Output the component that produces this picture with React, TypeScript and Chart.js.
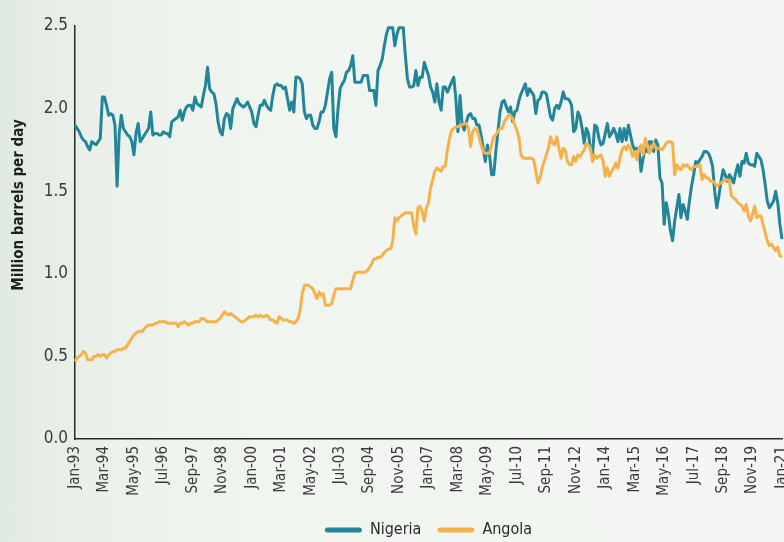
import React, { useEffect, useRef } from "react";
import { Chart, registerables } from "chart.js";
Chart.register(...registerables);

// ---- data (million barrels per day, monthly Jan-93 .. Jan-21) ----
const monthNames = ["Jan", "Feb", "Mar", "Apr", "May", "Jun", "Jul", "Aug", "Sep", "Oct", "Nov", "Dec"];
const categories: string[] = [];
for (let y = 1993; y <= 2021; y++) {
  for (let m = 0; m < 12; m++) {
    if (y === 2021 && m > 0) break;
    categories.push(`${monthNames[m]}-${String(y % 100).padStart(2, "0")}`);
  }
}

const tickLabels = [
  "Jan-93", "Mar-94", "May-95", "Jul-96", "Sep-97", "Nov-98", "Jan-00", "Mar-01", "May-02",
  "Jul-03", "Sep-04", "Nov-05", "Jan-07", "Mar-08", "May-09", "Jul-10", "Sep-11", "Nov-12",
  "Jan-14", "Mar-15", "May-16", "Jul-17", "Sep-18", "Nov-19", "Jan-21",
];

const yTicks = [0, 0.5, 1.0, 1.5, 2.0, 2.5];

const nigeria = [
  1.90, 1.88, 1.86, 1.83, 1.81, 1.80, 1.77, 1.75, 1.80, 1.79, 1.78, 1.80, // 1993
  1.82, 2.07, 2.07, 2.02, 1.96, 1.97, 1.96, 1.90, 1.53, 1.85, 1.96, 1.88, // 1994
  1.86, 1.84, 1.83, 1.80, 1.72, 1.85, 1.91, 1.80, 1.82, 1.84, 1.86, 1.88, // 1995
  1.98, 1.84, 1.85, 1.85, 1.84, 1.84, 1.86, 1.85, 1.85, 1.83, 1.92, 1.93, // 1996
  1.94, 1.95, 1.99, 1.93, 1.98, 2.01, 2.02, 2.02, 1.99, 2.07, 2.03, 2.02, // 1997
  2.01, 2.08, 2.14, 2.25, 2.12, 2.10, 2.09, 2.03, 1.92, 1.86, 1.84, 1.94, // 1998
  1.97, 1.96, 1.88, 2.00, 2.03, 2.06, 2.03, 2.02, 2.01, 2.02, 2.04, 2.01, // 1999
  1.98, 1.91, 1.89, 1.96, 2.02, 2.02, 2.05, 2.02, 2.00, 1.99, 2.08, 2.14, // 2000
  2.15, 2.14, 2.14, 2.12, 2.13, 2.06, 1.99, 2.04, 1.98, 2.19, 2.19, 2.18, // 2001
  2.15, 1.98, 1.94, 1.96, 1.96, 1.90, 1.88, 1.88, 1.92, 1.98, 1.98, 2.02, // 2002
  2.10, 2.18, 2.22, 1.88, 1.83, 2.00, 2.12, 2.15, 2.17, 2.22, 2.23, 2.26, // 2003
  2.32, 2.16, 2.16, 2.16, 2.16, 2.20, 2.20, 2.20, 2.11, 2.11, 2.11, 2.02, // 2004
  2.23, 2.26, 2.30, 2.38, 2.45, 2.49, 2.49, 2.49, 2.38, 2.45, 2.49, 2.49, // 2005
  2.49, 2.32, 2.18, 2.13, 2.13, 2.14, 2.23, 2.14, 2.19, 2.19, 2.28, 2.24, // 2006
  2.20, 2.13, 2.10, 2.04, 2.15, 2.04, 1.99, 2.13, 2.13, 2.10, 2.13, 2.16, // 2007
  2.19, 2.06, 1.86, 2.08, 1.90, 1.87, 1.92, 1.96, 1.97, 1.94, 1.94, 1.90, // 2008
  1.90, 1.84, 1.76, 1.68, 1.78, 1.72, 1.60, 1.60, 1.74, 1.86, 1.98, 2.04, // 2009
  2.05, 2.01, 1.98, 2.01, 1.92, 1.98, 1.99, 2.05, 2.09, 2.12, 2.15, 2.08, // 2010
  2.12, 2.10, 2.08, 1.97, 2.05, 2.06, 2.10, 2.10, 2.09, 2.02, 1.95, 1.93, // 2011
  2.00, 2.02, 2.00, 2.04, 2.10, 2.06, 2.06, 2.05, 2.02, 1.86, 1.88, 1.98, // 2012
  1.95, 1.88, 1.79, 1.88, 1.85, 1.75, 1.73, 1.90, 1.89, 1.82, 1.78, 1.79, // 2013
  1.85, 1.91, 1.83, 1.85, 1.88, 1.85, 1.80, 1.88, 1.80, 1.88, 1.81, 1.90, // 2014
  1.84, 1.78, 1.75, 1.76, 1.75, 1.62, 1.70, 1.76, 1.74, 1.80, 1.80, 1.74, // 2015
  1.81, 1.78, 1.58, 1.55, 1.30, 1.43, 1.36, 1.26, 1.20, 1.32, 1.40, 1.48, // 2016
  1.34, 1.42, 1.38, 1.33, 1.44, 1.53, 1.60, 1.68, 1.67, 1.69, 1.71, 1.74, // 2017
  1.74, 1.73, 1.70, 1.65, 1.50, 1.40, 1.47, 1.56, 1.63, 1.60, 1.56, 1.60, // 2018
  1.58, 1.55, 1.61, 1.66, 1.59, 1.68, 1.67, 1.73, 1.67, 1.66, 1.66, 1.65, // 2019
  1.73, 1.71, 1.69, 1.63, 1.54, 1.44, 1.40, 1.42, 1.44, 1.50, 1.43, 1.30, // 2020
  1.21, // 2021
];

const angola = [
  0.47, 0.49, 0.50, 0.51, 0.53, 0.52, 0.48, 0.48, 0.48, 0.50, 0.50, 0.51, // 1993
  0.50, 0.51, 0.51, 0.49, 0.51, 0.52, 0.53, 0.53, 0.54, 0.54, 0.54, 0.55, // 1994
  0.55, 0.57, 0.59, 0.61, 0.63, 0.64, 0.65, 0.65, 0.65, 0.67, 0.68, 0.69, // 1995
  0.69, 0.69, 0.70, 0.70, 0.71, 0.71, 0.71, 0.71, 0.70, 0.70, 0.70, 0.70, // 1996
  0.70, 0.68, 0.70, 0.70, 0.71, 0.70, 0.69, 0.70, 0.70, 0.71, 0.71, 0.71, // 1997
  0.73, 0.73, 0.72, 0.71, 0.71, 0.71, 0.71, 0.71, 0.72, 0.73, 0.75, 0.77, // 1998
  0.76, 0.75, 0.76, 0.75, 0.74, 0.73, 0.72, 0.71, 0.71, 0.72, 0.73, 0.74, // 1999
  0.74, 0.74, 0.75, 0.74, 0.75, 0.74, 0.74, 0.75, 0.74, 0.72, 0.72, 0.71, // 2000
  0.70, 0.74, 0.73, 0.72, 0.72, 0.72, 0.71, 0.71, 0.70, 0.71, 0.73, 0.78, // 2001
  0.88, 0.93, 0.93, 0.93, 0.92, 0.91, 0.88, 0.85, 0.89, 0.87, 0.88, 0.81, // 2002
  0.81, 0.81, 0.82, 0.87, 0.91, 0.91, 0.91, 0.91, 0.91, 0.91, 0.91, 0.91, // 2003
  0.96, 1.00, 1.01, 1.01, 1.01, 1.01, 1.01, 1.02, 1.04, 1.06, 1.09, 1.09, // 2004
  1.10, 1.10, 1.11, 1.13, 1.14, 1.15, 1.15, 1.20, 1.34, 1.32, 1.34, 1.35, // 2005
  1.36, 1.37, 1.37, 1.37, 1.37, 1.29, 1.24, 1.40, 1.41, 1.38, 1.32, 1.40, // 2006
  1.43, 1.52, 1.57, 1.62, 1.64, 1.63, 1.62, 1.65, 1.65, 1.75, 1.82, 1.87, // 2007
  1.88, 1.89, 1.89, 1.90, 1.90, 1.91, 1.91, 1.88, 1.77, 1.86, 1.88, 1.87, // 2008
  1.83, 1.78, 1.74, 1.73, 1.73, 1.73, 1.78, 1.83, 1.84, 1.86, 1.88, 1.88, // 2009
  1.92, 1.94, 1.96, 1.96, 1.94, 1.90, 1.87, 1.82, 1.72, 1.70, 1.70, 1.70, // 2010
  1.70, 1.70, 1.69, 1.62, 1.55, 1.58, 1.64, 1.68, 1.72, 1.76, 1.83, 1.79, // 2011
  1.78, 1.83, 1.76, 1.70, 1.76, 1.75, 1.68, 1.66, 1.66, 1.71, 1.68, 1.72, // 2012
  1.71, 1.73, 1.75, 1.79, 1.78, 1.76, 1.68, 1.72, 1.70, 1.71, 1.72, 1.68, // 2013
  1.59, 1.64, 1.59, 1.62, 1.64, 1.67, 1.64, 1.70, 1.75, 1.77, 1.75, 1.78, // 2014
  1.76, 1.71, 1.74, 1.69, 1.76, 1.78, 1.72, 1.82, 1.78, 1.73, 1.76, 1.79, // 2015
  1.76, 1.76, 1.76, 1.75, 1.77, 1.79, 1.80, 1.80, 1.79, 1.60, 1.66, 1.64, // 2016
  1.63, 1.66, 1.65, 1.66, 1.64, 1.63, 1.65, 1.65, 1.65, 1.66, 1.57, 1.60, // 2017
  1.58, 1.58, 1.56, 1.56, 1.55, 1.53, 1.54, 1.55, 1.56, 1.57, 1.57, 1.56, // 2018
  1.47, 1.46, 1.45, 1.43, 1.42, 1.41, 1.38, 1.42, 1.35, 1.32, 1.36, 1.41, // 2019
  1.34, 1.35, 1.35, 1.30, 1.25, 1.20, 1.17, 1.18, 1.16, 1.14, 1.16, 1.11, // 2020
  1.10, // 2021
];

const TEAL = "#21869a";
const ORANGE = "#f6b24a";
const FONT = "'Liberation Sans Narrow', 'DejaVu Sans Condensed', 'Arial Narrow', sans-serif";
const yTitle = "Million barrels per day";

const CW = 807;
const CH = 554;

const yTitlePlugin = {
  id: "yTitlePlugin",
  afterDraw(chart: any) {
    const ctx = chart.ctx;
    ctx.save();
    ctx.translate(19, 205);
    ctx.rotate(-Math.PI / 2);
    ctx.font = `bold 15px ${FONT}`;
    ctx.fillStyle = "#1e1e1e";
    ctx.textAlign = "center";
    ctx.textBaseline = "middle";
    ctx.fillText(yTitle, 0, 0);
    ctx.restore();
  },
};

export default function App() {
  const ref = useRef<HTMLCanvasElement>(null);
  useEffect(() => {
    const canvas = ref.current!;
    const chart = new Chart(canvas, {
      type: "line",
      data: {
        labels: categories,
        datasets: [
          {
            label: "Nigeria",
            data: nigeria,
            borderColor: TEAL,
            backgroundColor: TEAL,
            borderWidth: 3,
            pointRadius: 0,
            tension: 0,
            order: 1,
            borderJoinStyle: "round",
          },
          {
            label: "Angola",
            data: angola,
            borderColor: ORANGE,
            backgroundColor: ORANGE,
            borderWidth: 3,
            pointRadius: 0,
            tension: 0,
            order: 0,
            borderJoinStyle: "round",
          },
        ],
      },
      options: {
        animation: false,
        responsive: false,
        maintainAspectRatio: false,
        layout: { padding: { top: 26, right: 18, left: 0, bottom: 6 } },
        plugins: {
          tooltip: { enabled: false },
          legend: {
            position: "bottom",
            fullSize: false,
            labels: {
              boxWidth: 37,
              boxHeight: 5,
              padding: 16,
              color: "#2a2a2a",
              font: { family: FONT, size: 16 },
              useBorderRadius: true,
              borderRadius: 2.5,
              sort: (a: any, b: any) => a.datasetIndex - b.datasetIndex,
              generateLabels: (c: any) =>
                (Chart.defaults.plugins.legend.labels as any)
                  .generateLabels(c)
                  .map((l: any) => ({ ...l, lineWidth: 0 })),
            },
          },
        },
        scales: {
          x: {
            type: "category",
            offset: false,
            grid: { display: false, drawTicks: false },
            border: { display: true, color: "#2a2a2a", width: 1.5 },
            ticks: {
              autoSkip: false,
              minRotation: 90,
              maxRotation: 90,
              padding: 7,
              color: "#3a3a3a",
              font: { family: FONT, size: 15 },
              callback: (_v: any, i: number) =>
                tickLabels.includes(categories[i]) ? categories[i] : "",
            },
            afterFit: (s: any) => {
              s.height = 67;
            },
          },
          y: {
            min: 0,
            max: 2.5,
            grid: { display: false, drawTicks: false },
            border: { display: true, color: "#2a2a2a", width: 1.5 },
            afterBuildTicks: (s: any) => {
              s.ticks = yTicks.map((v) => ({ value: v }));
            },
            ticks: {
              padding: 7,
              color: "#3a3a3a",
              font: { family: FONT, size: 17 },
              callback: (v: any) => Number(v).toFixed(1),
            },
            afterFit: (s: any) => {
              s.width = 75;
            },
          },
        },
      },
      plugins: [yTitlePlugin],
    } as any);
    return () => chart.destroy();
  }, []);

  return (
    <div
      style={{
        position: "fixed",
        left: 0,
        top: 0,
        width: 784,
        height: 542,
        overflow: "hidden",
        background:
          "linear-gradient(to right, #e1eae2 0%, #ebf1ea 12%, #f1f5f0 35%, #f3f6f2 100%)",
      }}
    >
      <canvas ref={ref} width={CW} height={CH} style={{ display: "block", width: CW, height: CH }} />
    </div>
  );
}
